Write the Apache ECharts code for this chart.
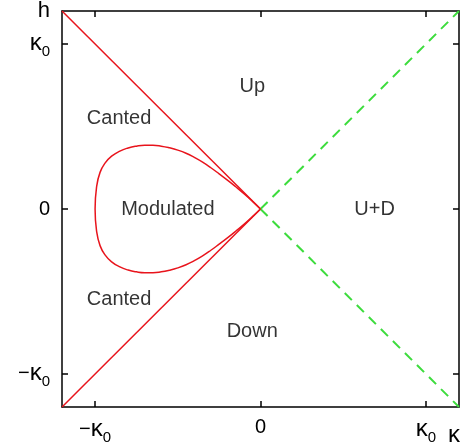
<!DOCTYPE html>
<html>
<head>
<meta charset="utf-8">
<script src="https://cdn.jsdelivr.net/npm/echarts@6/dist/echarts.min.js"></script>
<style>
html,body{margin:0;padding:0;background:#fff;}
#c{width:473px;height:447px;}
</style>
</head>
<body>
<div id="c"></div>
<script>
// ---- data ----
const tickValues = [-1, 0, 1];
const xTickLabels = ['{m|−}{k|κ}{s|0}', '{z|0}', '{k|κ}{s|0}'];
const yTickLabels = ['{m|−}{k|κ}{s|0}', '{z|0}', '{k|κ}{s|0}'];

const cantedUpperBoundary = [[-1.2, 1.2], [0, 0]];
const cantedLowerBoundary = [[-1.2, -1.2], [0, 0]];
const udUpperBoundary = [[0, 0], [1.2, 1.2]];
const udLowerBoundary = [[0, 0], [1.2, -1.2]];

const modKappa = [0, -0.05, -0.1, -0.15, -0.2, -0.25, -0.3, -0.35, -0.4, -0.45, -0.5, -0.55, -0.6, -0.65, -0.7, -0.75, -0.8, -0.85, -0.9, -0.94, -0.97, -0.99, -1.0,
                  -0.99, -0.97, -0.94, -0.9, -0.85, -0.8, -0.75, -0.7, -0.65, -0.6, -0.55, -0.5, -0.45, -0.4, -0.35, -0.3, -0.25, -0.2, -0.15, -0.1, -0.05, 0];
const modH = [0, 0.048, 0.093, 0.135, 0.175, 0.213, 0.25, 0.284, 0.313, 0.338, 0.357, 0.371, 0.381, 0.386, 0.386, 0.381, 0.37, 0.351, 0.32, 0.278, 0.222, 0.14, 0,
              -0.14, -0.222, -0.278, -0.32, -0.351, -0.37, -0.381, -0.386, -0.386, -0.381, -0.371, -0.357, -0.338, -0.313, -0.284, -0.25, -0.213, -0.175, -0.135, -0.093, -0.048, 0];

const phaseNames = ['Up', 'Canted', 'Modulated', 'U+D', 'Canted', 'Down'];
const phaseKappa = [-0.05, -0.855, -0.56, 0.69, -0.855, -0.05];
const phaseH = [0.745, 0.55, 0, 0, -0.55, -0.745];

// ---- chart ----
const chart = echarts.init(document.getElementById('c'), null, {renderer: 'canvas'});
const font = 'Liberation Sans, Arial, Helvetica, sans-serif';
const rich = {
  m: {fontSize: 20, fontFamily: font, color: '#000', verticalAlign: 'bottom', padding: [0, 0, 4, 0]},
  k: {fontSize: 24, fontFamily: font, color: '#000', verticalAlign: 'bottom', padding: [0, 0, 2, 0]},
  s: {fontSize: 15, fontFamily: font, color: '#000', verticalAlign: 'bottom', padding: [0, 0, -2, 0]},
  z: {fontSize: 20, fontFamily: font, color: '#000'}
};
const lineStyleAxis = {color: '#000', width: 1.5};

function labelIdx(v) { return tickValues.indexOf(Math.round(v * 1000) / 1000); }

const option = {
  animation: false,
  backgroundColor: '#fff',
  grid: {left: 62, right: 14, top: 10, bottom: 38, containLabel: false},
  xAxis: [
    {type: 'value', min: -1.2, max: 1.2, position: 'bottom',
     axisLine: {show: true, onZero: false, lineStyle: lineStyleAxis},
     axisTick: {show: true, inside: true, length: 6, customValues: tickValues, lineStyle: lineStyleAxis},
     axisLabel: {show: true, customValues: tickValues, margin: 10,
       formatter: function (v) { const i = labelIdx(v); return i >= 0 ? xTickLabels[i] : ''; }, rich: rich},
     splitLine: {show: false},
     name: 'κ', nameLocation: 'end', nameGap: -5,
     nameTextStyle: {fontSize: 24, fontFamily: font, color: '#000', align: 'center', verticalAlign: 'top', padding: [16, 0, 0, 0]}},
    {type: 'value', min: -1.2, max: 1.2, position: 'top',
     axisLine: {show: true, onZero: false, lineStyle: lineStyleAxis},
     axisTick: {show: true, inside: true, length: 6, customValues: tickValues, lineStyle: lineStyleAxis},
     axisLabel: {show: false}, splitLine: {show: false}}
  ],
  yAxis: [
    {type: 'value', min: -1.2, max: 1.2, position: 'left',
     axisLine: {show: true, onZero: false, lineStyle: lineStyleAxis},
     axisTick: {show: true, inside: true, length: 6, customValues: tickValues, lineStyle: lineStyleAxis},
     axisLabel: {show: true, customValues: tickValues, margin: 12,
       formatter: function (v) { const i = labelIdx(v); return i >= 0 ? yTickLabels[i] : ''; }, rich: rich},
     splitLine: {show: false},
     name: 'h', nameLocation: 'end', nameGap: 0,
     nameTextStyle: {fontSize: 22, fontFamily: font, color: '#000', align: 'right', verticalAlign: 'middle', padding: [2, 12, 0, 0]}},
    {type: 'value', min: -1.2, max: 1.2, position: 'right',
     axisLine: {show: true, onZero: false, lineStyle: lineStyleAxis},
     axisTick: {show: true, inside: true, length: 6, customValues: tickValues, lineStyle: lineStyleAxis},
     axisLabel: {show: false}, splitLine: {show: false}}
  ],
  series: [
    {type: 'line', data: cantedUpperBoundary, symbol: 'none', lineStyle: {color: '#e8141c', width: 1.5}},
    {type: 'line', data: cantedLowerBoundary, symbol: 'none', lineStyle: {color: '#e8141c', width: 1.5}},
    {type: 'line', data: udUpperBoundary, symbol: 'none', lineStyle: {color: '#3ddc3d', width: 2, type: [10, 7]}},
    {type: 'line', data: udLowerBoundary, symbol: 'none', lineStyle: {color: '#3ddc3d', width: 2, type: [10, 7]}},
    {type: 'line', data: modKappa.map((k, i) => [k, modH[i]]), symbol: 'none', smooth: 0.5,
     lineStyle: {color: '#e8141c', width: 1.5}},
    {type: 'scatter', data: phaseKappa.map((k, i) => [k, phaseH[i], phaseNames[i]]), symbolSize: 0, silent: true,
     label: {show: true, position: 'inside', formatter: p => p.data[2], fontSize: 20, fontFamily: font, color: '#000'}}
  ]
};
chart.setOption(option);
</script>
</body>
</html>
